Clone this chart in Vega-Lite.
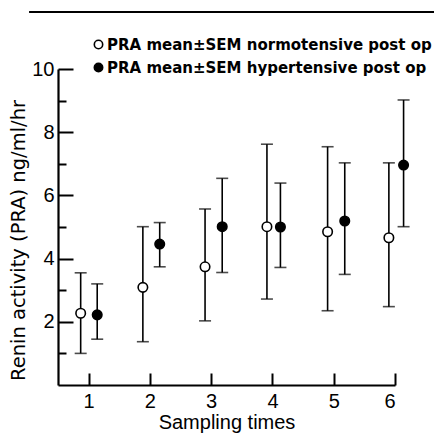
{
  "$schema": "https://vega.github.io/schema/vega-lite/v6.json",
  "width": 337,
  "height": 316,
  "autosize": "none",
  "padding": {"left": 58, "top": 69, "right": 49, "bottom": 51},
  "background": "white",
  "config": {
    "view": {"stroke": null},
    "font": "Liberation Sans",
    "axis": {"domainColor": "black", "domainWidth": 2.2, "tickColor": "black", "tickWidth": 2, "labelColor": "black", "titleColor": "black", "grid": false, "labelFont": "Liberation Sans", "titleFont": "Liberation Sans"}
  },
  "resolve": {"axis": {"y": "independent"}},
  "data": {
    "values": [
      {"group": "PRA mean±SEM normotensive post op", "time": 1, "x": 0.87, "mean": 2.27, "lo": 1.0, "hi": 3.55},
      {"group": "PRA mean±SEM normotensive post op", "time": 2, "x": 1.885, "mean": 3.09, "lo": 1.37, "hi": 5.01},
      {"group": "PRA mean±SEM normotensive post op", "time": 3, "x": 2.9, "mean": 3.74, "lo": 2.03, "hi": 5.57},
      {"group": "PRA mean±SEM normotensive post op", "time": 4, "x": 3.91, "mean": 5.01, "lo": 2.72, "hi": 7.62},
      {"group": "PRA mean±SEM normotensive post op", "time": 5, "x": 4.9, "mean": 4.85, "lo": 2.35, "hi": 7.54},
      {"group": "PRA mean±SEM normotensive post op", "time": 6, "x": 5.9, "mean": 4.66, "lo": 2.48, "hi": 7.03},
      {"group": "PRA mean±SEM hypertensive post op", "time": 1, "x": 1.14, "mean": 2.22, "lo": 1.45, "hi": 3.2},
      {"group": "PRA mean±SEM hypertensive post op", "time": 2, "x": 2.16, "mean": 4.46, "lo": 3.74, "hi": 5.14},
      {"group": "PRA mean±SEM hypertensive post op", "time": 3, "x": 3.18, "mean": 5.01, "lo": 3.56, "hi": 6.54},
      {"group": "PRA mean±SEM hypertensive post op", "time": 4, "x": 4.13, "mean": 5.0, "lo": 3.72, "hi": 6.39},
      {"group": "PRA mean±SEM hypertensive post op", "time": 5, "x": 5.18, "mean": 5.19, "lo": 3.5, "hi": 7.03},
      {"group": "PRA mean±SEM hypertensive post op", "time": 6, "x": 6.14, "mean": 6.96, "lo": 5.01, "hi": 9.02}
    ]
  },
  "layer": [
    {
      "mark": {"type": "rule", "color": "black", "strokeWidth": 2},
      "encoding": {
        "x": {"datum": 0.04, "type": "quantitative", "scale": {"domain": [0.5, 6], "nice": false, "zero": false}},
        "x2": {"datum": 6.63},
        "y": {"datum": 11.8, "type": "quantitative", "scale": {"domain": [0, 10], "nice": false}, "axis": null}
      }
    },
    {
      "mark": {"type": "rule", "color": "black", "strokeWidth": 1.6},
      "encoding": {
        "x": {"field": "x", "type": "quantitative",
          "axis": {"values": [1, 2, 3, 4, 5, 6], "format": "d", "tickSize": -12, "labelFontSize": 20, "labelPadding": 18, "title": "Sampling times", "titleFontSize": 20, "titleFontWeight": "normal", "titlePadding": 1}},
        "y": {"field": "lo", "type": "quantitative",
          "axis": {"orient": "left", "values": [2, 4, 6, 8, 10], "format": "d", "tickSize": -15, "labelFontSize": 20, "labelPadding": 19, "title": "Renin activity (PRA) ng/ml/hr", "titleFont": "DejaVu Sans", "titleFontSize": 19.5, "titleFontWeight": "normal", "titlePadding": 3, "titleY": 171}},
        "y2": {"field": "hi"}
      }
    },
    {
      "mark": {"type": "tick", "orient": "horizontal", "color": "black", "size": 12, "thickness": 1.6},
      "encoding": {"x": {"field": "x", "type": "quantitative"},
        "y": {"field": "lo", "type": "quantitative",
          "axis": {"orient": "left", "values": [1, 3, 5, 7, 9], "labels": false, "domain": false, "tickSize": -8, "title": null}}}
    },
    {
      "mark": {"type": "tick", "orient": "horizontal", "color": "black", "size": 12, "thickness": 1.6},
      "encoding": {"x": {"field": "x", "type": "quantitative"}, "y": {"field": "hi", "type": "quantitative", "axis": null}}
    },
    {
      "mark": {"type": "point", "shape": "circle", "filled": true, "stroke": "black", "strokeWidth": 1.6, "size": 90, "opacity": 1},
      "encoding": {
        "x": {"field": "x", "type": "quantitative"},
        "y": {"field": "mean", "type": "quantitative", "axis": null},
        "fill": {"field": "group", "type": "nominal",
          "scale": {"domain": ["PRA mean±SEM normotensive post op", "PRA mean±SEM hypertensive post op"], "range": ["white", "black"]},
          "legend": {"title": null, "orient": "none", "legendX": 33, "legendY": -32, "labelFont": "DejaVu Sans", "labelFontSize": 15, "labelFontWeight": "bold", "labelColor": "black", "labelLimit": 400, "symbolType": "circle", "symbolStrokeColor": "black", "symbolStrokeWidth": 1.6, "symbolSize": 70, "rowPadding": 7, "labelOffset": 1}}
      }
    }
  ]
}
